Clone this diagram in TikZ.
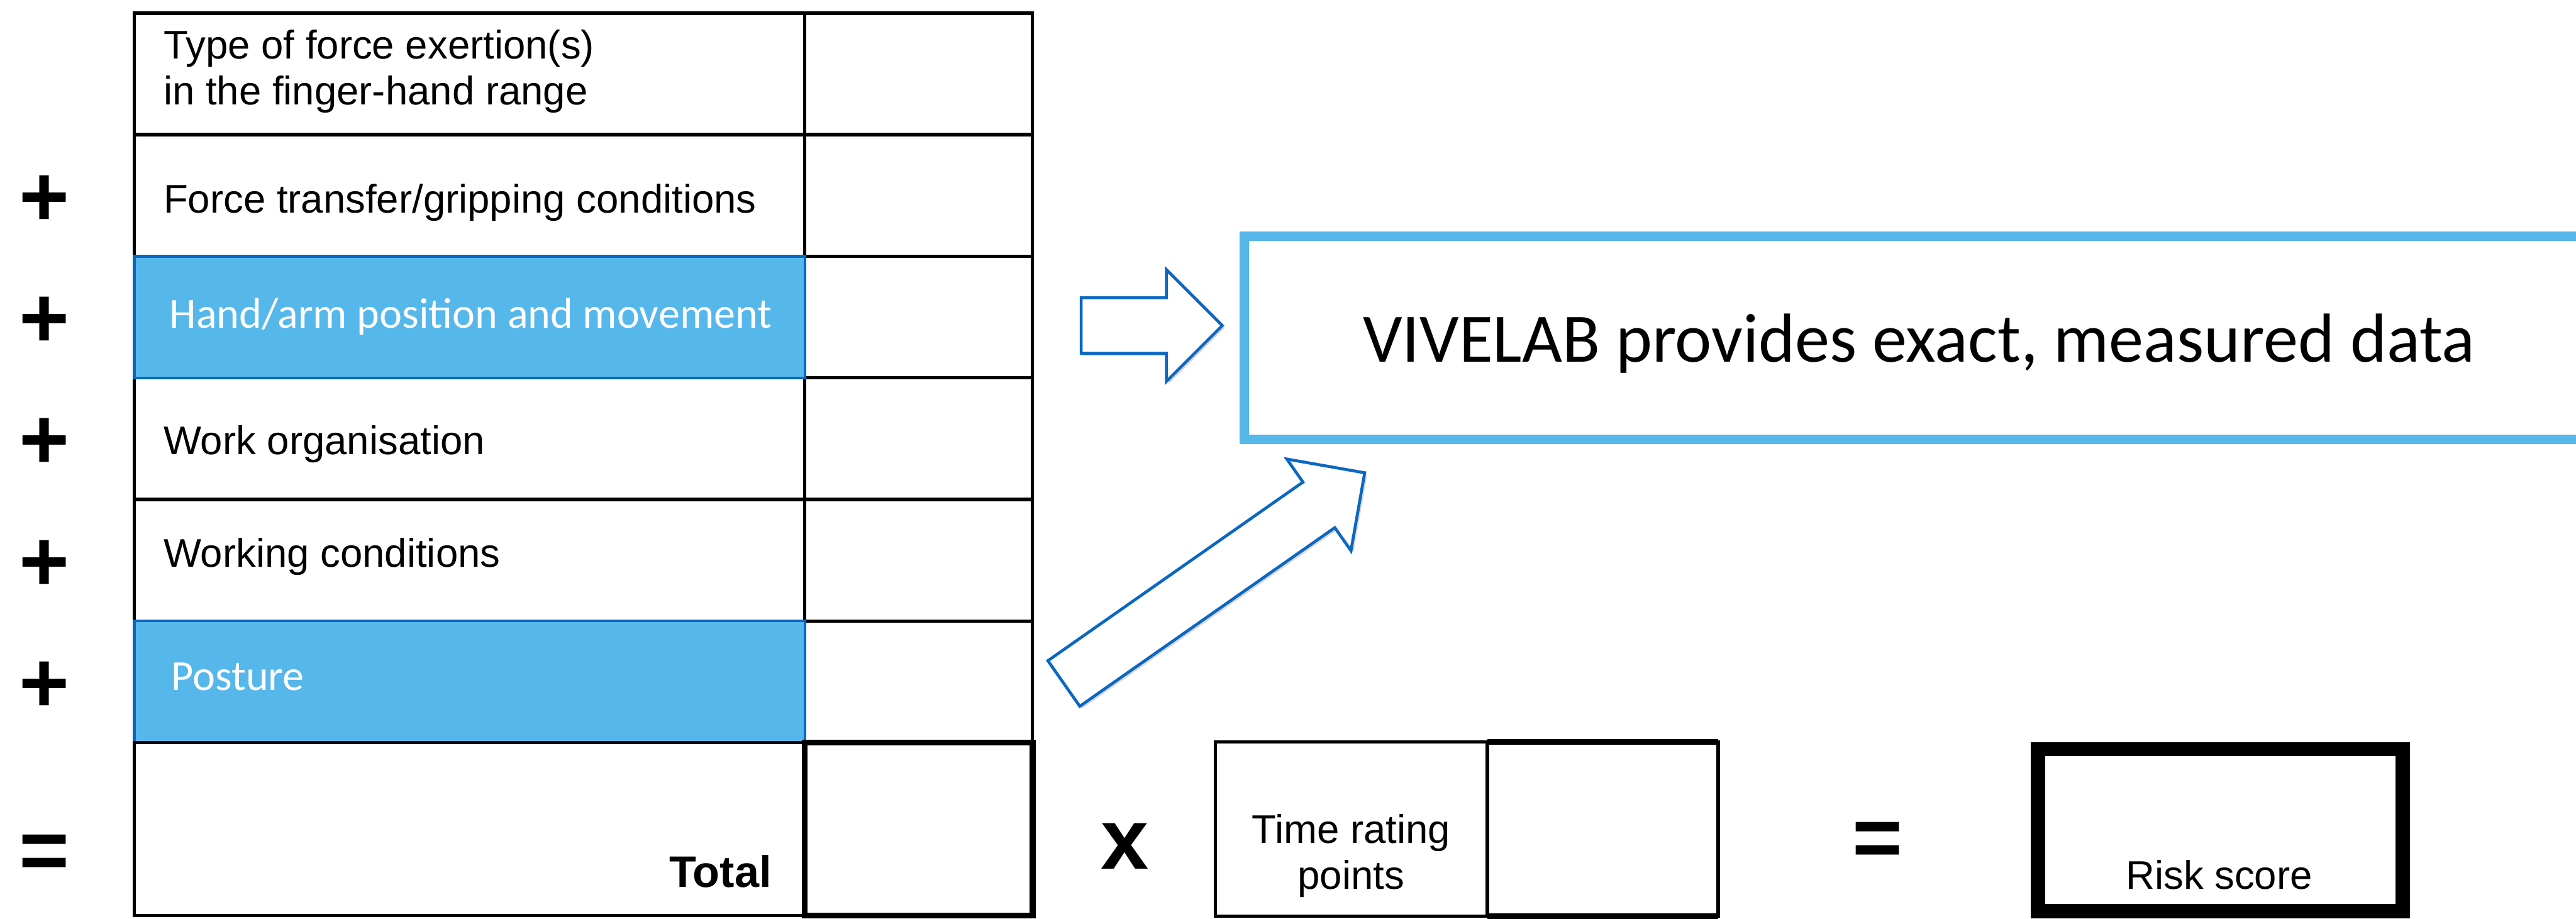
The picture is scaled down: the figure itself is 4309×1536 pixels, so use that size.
\documentclass[tikz,border=0pt]{standalone}
\usepackage{fontspec}
\setmainfont{Liberation Sans}
\newfontfamily\calfont{Carlito}
\usetikzlibrary{shapes.arrows, shadows, positioning, calc}
\definecolor{vivblue}{HTML}{56B7EB}
\definecolor{vivdark}{HTML}{0A67C2}
\newcommand{\rowfont}{\fontsize{19}{22}\selectfont}
\newcommand{\opfont}{\fontsize{41}{41}\selectfont\bfseries}
\tikzset{
  cell/.style={rectangle, draw=black, line width=1.6pt, minimum width=11.21cm,
               minimum height=2.033cm, inner sep=0pt, outer sep=0pt},
  valcell/.style={cell, minimum width=3.81cm},
  hilite/.style={cell, fill=vivblue, draw=vivdark, line width=1.3pt},
  rowtxt/.style={font=\rowfont, anchor=base west, inner sep=0pt},
  blutxt/.style={font=\calfont\fontsize{20.4}{24}\selectfont, text=white,
                 anchor=base west, inner sep=0pt},
  op/.style={font=\opfont, anchor=base, inner sep=0pt},
  fatarrow/.style={single arrow, draw=vivdark, line width=1.4pt, fill=white,
                   inner xsep=0pt, inner ysep=0.44cm, single arrow head extend=0.47cm,
                   anchor=tail,
                   drop shadow={shadow xshift=0.04cm, shadow yshift=-0.04cm, opacity=0.3}},
}

\begin{document}
\begin{tikzpicture}[x=0.01cm, y=-0.01cm]
    \useasboundingbox (0,0) rectangle (4309,1536);

    % score table
    \foreach \i/\yc in {1/123.7, 2/327, 3/530.3, 4/733.7, 5/937, 6/1140.3}{
      \node[valcell] (val\i) at (1536.5,\yc) {};
    }
    \foreach \i/\yc in {1/123.7, 2/327, 4/733.7, 5/937}{
      \node[cell] (lab\i) at (785.5,\yc) {};
    }
    \foreach \i/\yc in {3/530.3, 6/1140.3}{
      \node[hilite] (lab\i) at (785.5,\yc) {};
    }
    \node[cell, minimum height=2.89cm] (labT) at (785.5,1386.5) {};
    \node[valcell, minimum height=2.89cm, line width=2.85pt] (valT) at (1536.5,1386.5) {};

    % row texts
    \node[rowtxt, anchor=north west, align=left] (t1) at (273,49)
      {Type of force exertion(s)\\in the finger-hand range};
    \node[rowtxt] (t2) at (273,356) {Force transfer/gripping conditions};
    \node[blutxt] (t3) at (283,549) {Hand/arm position and movement};
    \node[rowtxt] (t4) at (273,760) {Work organisation};
    \node[rowtxt] (t5) at (273,948) {Working conditions};
    \node[blutxt] (t6) at (286,1155) {Posture};
    \node[rowtxt, font=\fontsize{21}{24}\selectfont\bfseries, anchor=base east] (tT) at (1291,1484) {Total};

    % operators
    \foreach \i in {2,...,6}{
      \node[op] (plus\i) at ($(lab\i.west)+(-151,51)$) {+};
    }
    \node[op] (eq1) at ($(labT.west)+(-151,85)$) {=};
    \node[op] (times) at (1882,1453) {x};
    \node[op] (eq2) at (3141,1450) {=};

    % time rating and risk score
    \node[cell, minimum width=4.55cm, minimum height=2.91cm] (tlab) at (2260.5,1386.5) {};
    \node[cell, minimum width=3.86cm, minimum height=2.91cm] (tval) at (2681,1386.5) {};
    \draw[line width=2.6pt] (tval.north west) -- (tval.north east)
                            (tval.south west) -- (tval.south east);
    \node[rowtxt, anchor=north, align=center] (ttxt) at (2260,1361) {Time rating\\points};
    \node[draw, line width=6.8pt, minimum width=6.10cm, minimum height=2.71cm,
          inner sep=0pt] (risk) at (3714,1388.5) {};
    \node[rowtxt, anchor=base] (risktxt) at (3712,1487) {Risk score};

    % VIVELAB box and arrows
    \node[draw=vivblue, line width=4.55pt, minimum width=22.56cm, minimum height=3.40cm,
          font=\calfont\fontsize{33}{40}\selectfont, text depth=0pt] (vive) at (3210,565)
      {VIVELAB provides exact, measured data};
    \node[fatarrow, minimum height=2.36cm] (arrowA) at (1806,544.5) {};
    \node[fatarrow, minimum height=6.14cm, rotate=35] (arrowB) at (1777.5,1144.5) {};
\end{tikzpicture}
\end{document}
